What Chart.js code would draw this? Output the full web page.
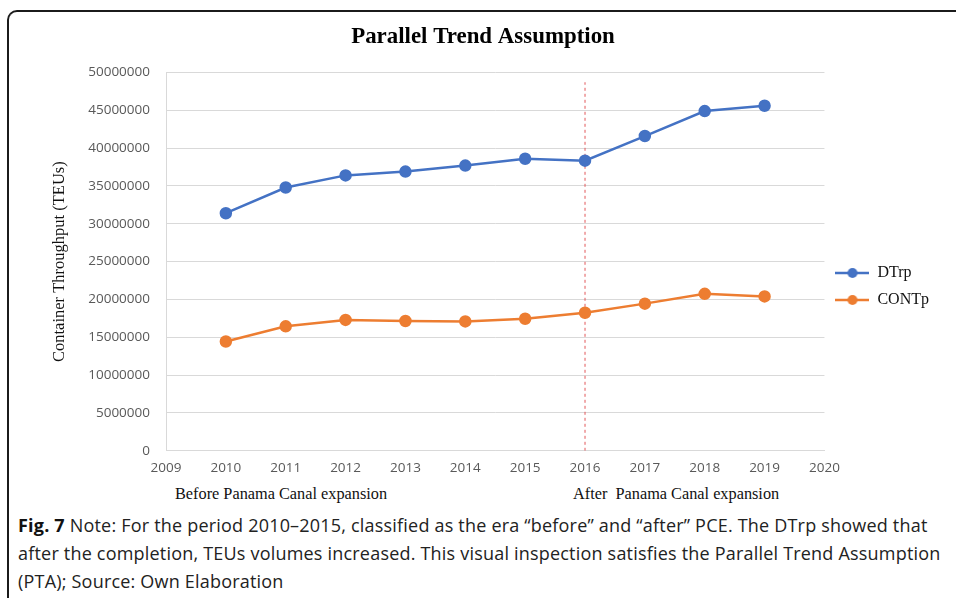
<!DOCTYPE html>
<html>
<head>
<meta charset="utf-8">
<title>Parallel Trend Assumption</title>
<script src="https://cdn.jsdelivr.net/npm/chart.js@4.4.1/dist/chart.umd.min.js"></script>
<style>
html, body { margin: 0; padding: 0; background: #fff; }
body { width: 956px; height: 598px; position: relative; overflow: hidden; }
#frame { position: absolute; left: 7px; top: 10px; width: 1000px; height: 700px;
  border-top: 2.5px solid #1b1b1b; border-left: 2px solid #1b1b1b; border-top-left-radius: 10px; }
#wrap { position: absolute; left: 0; top: 0; width: 956px; height: 477px; }
.era { position: absolute; top: 484px; font-family: "Liberation Serif", serif; font-size: 16.3px; color: #111; white-space: pre; }
#caption { position: absolute; left: 18px; top: 511px; font-family: "Open Sans", sans-serif; font-size: 18px;
  letter-spacing: 0.2px; line-height: 28px; color: #222; white-space: nowrap; }
#caption b { color: #111; }
</style>
</head>
<body>
<div id="frame"></div>
<div id="wrap"><canvas id="grafico"></canvas></div>
<div class="era" style="left:175px">Before Panama Canal expansion</div>
<div class="era" style="left:573px">After  Panama Canal expansion</div>
<div id="caption"><b>Fig. 7</b> Note: For the period 2010–2015, classified as the era “before” and “after” PCE. The DTrp showed that<br>after the completion, TEUs volumes increased. This visual inspection satisfies the Parallel Trend Assumption<br>(PTA); Source: Own Elaboration</div>
<script>
// dados
const anos = [2010, 2011, 2012, 2013, 2014, 2015, 2016, 2017, 2018, 2019];
const dtrp = [31400000, 34800000, 36400000, 36900000, 37700000, 38600000, 38350000, 41600000, 44900000, 45600000];
const contp = [14450000, 16450000, 17300000, 17150000, 17100000, 17450000, 18250000, 19450000, 20750000, 20400000];
const eixoX = [2009, 2020];
const eixoY = [0, 50000000];
const passoY = 5000000;
const anoCorte = 2016;
const alturaCorte = [0, 48700000];

const azul = '#4472C4';
const laranja = '#ED7D31';

function pontos(valores) {
    return anos.map((a, i) => ({ x: a, y: valores[i] }));
}

// icone da legenda: linha com bolinha
function iconeLegenda(cor) {
    const c = document.createElement('canvas');
    c.width = 34; c.height = 12;
    const g = c.getContext('2d');
    g.strokeStyle = cor; g.lineWidth = 2.5;
    g.beginPath(); g.moveTo(0, 6); g.lineTo(34, 6); g.stroke();
    g.fillStyle = cor;
    g.beginPath(); g.arc(17, 6, 5, 0, Math.PI * 2); g.fill();
    return c;
}

const fonteTicks = { family: 'Open Sans', size: 13.5 };
const corTicks = '#595959';

new Chart(document.getElementById('grafico'), {
    type: 'line',
    data: {
        datasets: [
            { label: 'DTrp', data: pontos(dtrp), borderColor: azul, backgroundColor: azul,
              borderWidth: 2.5, pointRadius: 5, pointHoverRadius: 5, tension: 0 },
            { label: 'CONTp', data: pontos(contp), borderColor: laranja, backgroundColor: laranja,
              borderWidth: 2.5, pointRadius: 5, pointHoverRadius: 5, tension: 0 },
            { label: 'corte', data: alturaCorte.map(v => ({ x: anoCorte, y: v })), borderColor: '#e2585b',
              borderWidth: 1, borderDash: [3, 3], pointRadius: 0 }
        ]
    },
    options: {
        responsive: true,
        maintainAspectRatio: false,
        animation: false,
        events: [],
        layout: { padding: { left: 27, right: 17, top: 16, bottom: 0 } },
        scales: {
            x: {
                type: 'linear', min: eixoX[0], max: eixoX[1],
                grid: { display: false },
                border: { display: true, color: '#d9d9d9' },
                ticks: { stepSize: 1, color: corTicks, font: fonteTicks, padding: 1, callback: v => String(v), maxRotation: 0 }
            },
            y: {
                min: eixoY[0], max: eixoY[1],
                afterFit: s => { s.width = 139; },
                grid: { color: '#d9d9d9', drawTicks: false },
                border: { display: true, color: '#d9d9d9' },
                ticks: { stepSize: passoY, color: corTicks, font: fonteTicks, padding: 16, callback: v => String(v) },
                title: { display: true, text: 'Container Throughput (TEUs)', color: '#111',
                         font: { family: 'Liberation Serif', size: 16.5 }, padding: { top: 23, bottom: 0 } }
            }
        },
        plugins: {
            title: { display: true, text: 'Parallel Trend Assumption', color: '#000',
                     font: { family: 'Liberation Serif', size: 22.9, weight: 'bold' }, padding: { top: 7, bottom: 22 } },
            tooltip: { enabled: false },
            legend: {
                position: 'right',
                title: { display: true, text: '', font: { size: 15 }, padding: { top: 62, bottom: 0 } },
                labels: {
                    usePointStyle: true, pointStyleWidth: 34, padding: 11, color: '#111',
                    font: { family: 'Liberation Serif', size: 16 },
                    filter: item => item.text !== 'corte',
                    generateLabels: chart => chart.data.datasets.map((ds, i) => ({
                        text: ds.label, datasetIndex: i, fontColor: '#111',
                        pointStyle: iconeLegenda(ds.borderColor), lineWidth: 0,
                        strokeStyle: ds.borderColor, fillStyle: ds.borderColor
                    }))
                }
            }
        }
    }
});
</script>
</body>
</html>
